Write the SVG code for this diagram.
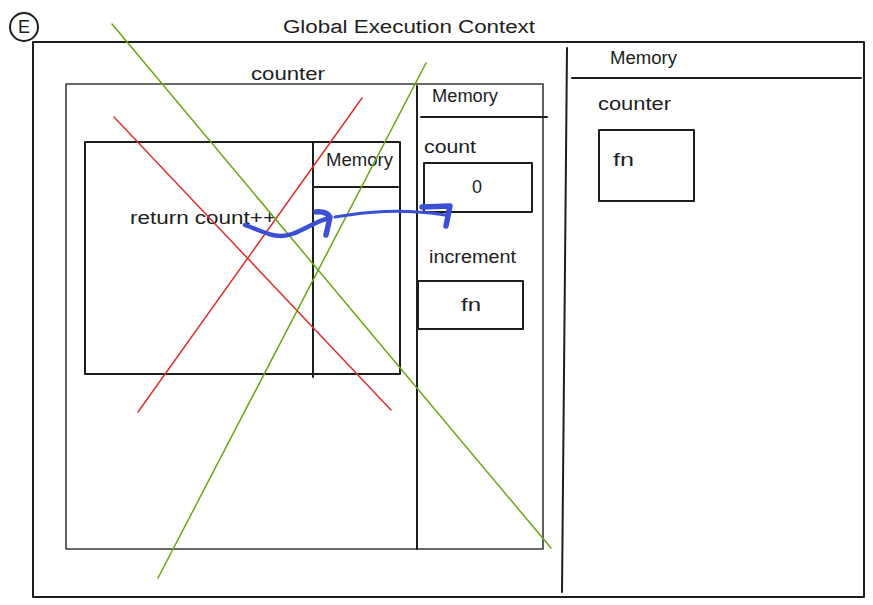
<svg xmlns="http://www.w3.org/2000/svg" width="873" height="605" viewBox="0 0 873 605">
<style>
  text { font-family: "Liberation Sans", Arial, sans-serif; font-size: 18px; fill: #1e1e1e; }
  .frame { fill: none; stroke: #1e1e1e; stroke-width: 2; stroke-linecap: round; stroke-linejoin: round; }
  .box { fill: none; stroke: #3a3a3a; stroke-width: 1.6; stroke-linecap: round; stroke-linejoin: round; }
  .red { stroke: #e03131; stroke-width: 1.5; fill: none; stroke-linecap: round; }
  .green { stroke: #66a80f; stroke-width: 1.5; fill: none; stroke-linecap: round; }
  .blue { stroke: #3b50d4; fill: none; stroke-linecap: round; stroke-linejoin: round; }
</style>
<rect width="873" height="605" fill="#ffffff"/>

<g id="badge">
  <circle cx="24" cy="27" r="14" class="frame" stroke-width="1.6"/>
  <text x="24" y="33" text-anchor="middle" font-size="16">E</text>
</g>

<g id="global-context">
  <rect x="33" y="42" width="831" height="555" class="frame"/>
  <text x="283" y="33" font-size="19" textLength="252" lengthAdjust="spacingAndGlyphs">Global Execution Context</text>
</g>

<g id="global-memory">
  <line x1="567" y1="48" x2="562" y2="592" class="frame"/>
  <line x1="572" y1="78" x2="861" y2="78" class="frame"/>
  <text x="610" y="64" textLength="67" lengthAdjust="spacingAndGlyphs">Memory</text>
  <text x="598" y="110" textLength="73" lengthAdjust="spacingAndGlyphs">counter</text>
</g>

<g id="global-counter-fn">
  <rect x="599" y="130" width="95" height="71" class="frame" stroke-width="1.6"/>
  <text x="613" y="166" textLength="21" lengthAdjust="spacingAndGlyphs">fn</text>
</g>

<g id="counter-context">
  <rect x="66" y="84" width="477" height="465" class="box"/>
  <text x="251" y="80" textLength="74" lengthAdjust="spacingAndGlyphs">counter</text>
</g>

<g id="counter-memory">
  <line x1="417" y1="86" x2="417" y2="549" class="frame" stroke-width="1.6"/>
  <line x1="421" y1="117" x2="547" y2="117" class="frame" stroke-width="1.6"/>
  <text x="432" y="102" textLength="66" lengthAdjust="spacingAndGlyphs">Memory</text>
</g>

<g id="count-slot">
  <text x="424" y="153" textLength="52" lengthAdjust="spacingAndGlyphs">count</text>
  <rect x="424" y="163" width="108" height="49" class="frame" stroke-width="1.6"/>
  <text x="477" y="193" text-anchor="middle">0</text>
</g>

<g id="increment-slot">
  <text x="429" y="263" textLength="87" lengthAdjust="spacingAndGlyphs">increment</text>
  <rect x="418" y="281" width="105" height="48" class="frame" stroke-width="1.6"/>
  <text x="461" y="311" textLength="20" lengthAdjust="spacingAndGlyphs">fn</text>
</g>

<g id="increment-context">
  <rect x="85" y="142" width="315" height="232" class="frame" stroke-width="1.6"/>
  <line x1="313" y1="142" x2="313" y2="377" class="frame" stroke-width="1.6"/>
  <line x1="314" y1="187" x2="398" y2="187" class="frame" stroke-width="1.6"/>
  <text x="326" y="166" textLength="67" lengthAdjust="spacingAndGlyphs">Memory</text>
  <text x="130" y="224" textLength="146" lengthAdjust="spacingAndGlyphs">return count++</text>
</g>

<g id="cross-outs">
  <line x1="114" y1="117" x2="391" y2="410" class="red"/>
  <line x1="362" y1="98" x2="138" y2="412" class="red"/>
  <line x1="112" y1="24" x2="551" y2="548" class="green"/>
  <line x1="426" y1="63" x2="158" y2="578" class="green"/>
</g>

<g id="connectors">
  <path d="M245,225 C262,231 276,240 292,234 C306,229 318,220 330,218" class="blue" stroke-width="4.5"/>
  <path d="M316,212 Q326,211 330,217 L326,235" class="blue" stroke-width="5.5"/>
  <path d="M335,217 C365,212 400,208 445,215" class="blue" stroke-width="3"/>
  <path d="M422,207 L450,206 L446,226" class="blue" stroke-width="5.5"/>
</g>
</svg>
